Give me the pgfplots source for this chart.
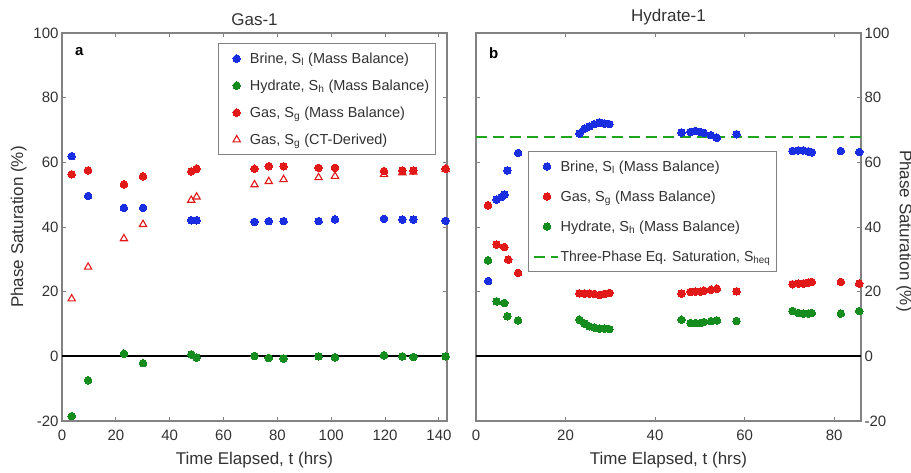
\documentclass[border=0pt]{standalone}
\usepackage{fontspec}
\setmainfont{Liberation Sans}
\usepackage{graphicx}
\usepackage{pgfplots}
\pgfplotsset{compat=1.18}
\definecolor{mblue}{RGB}{25,45,225}
\definecolor{mred}{RGB}{225,25,25}
\definecolor{mgreen}{RGB}{20,140,30}
\definecolor{dgreen}{RGB}{30,165,30}
\definecolor{axgray}{RGB}{130,130,130}
\definecolor{txt}{RGB}{50,50,50}
\pgfplotsset{
  panel/.style={
    scale only axis, width=385pt, height=388pt,
    ymin=-20, ymax=100, ytick={-20,0,...,100},
    axis line style={draw=axgray, line width=1.4pt},
    tick style={draw=axgray, line width=0.9pt},
    major tick length=4pt,
    tick align=inside,
    tick label style={font=\fontsize{15}{17}\selectfont, text=txt},
    xticklabel style={yshift=-5pt},
    label style={font=\fontsize{17}{20}\selectfont, text=txt},
    xlabel style={yshift=-5pt},
    title style={font=\fontsize{17}{20}\selectfont, text=txt, yshift=-2pt},
    legend style={font=\fontsize{14.5}{16}\selectfont, text=txt, draw=axgray,
      line width=1.2pt, inner xsep=4pt, inner ysep=7pt},
    legend cell align=left,
    /pgf/number format/assume math mode=true,
    clip=false,
  },
  markleg/.style={legend image code/.code={\path (0pt,0pt) (24pt,0pt);
      \draw[##1] plot coordinates {(13.5pt,0pt)};}},
  lineleg/.style={legend image code/.code={\draw[##1] (0pt,0pt) -- (24pt,0pt);}},
  dot/.style={only marks, mark=*, mark size=3.8pt, mark options={draw=#1, fill=#1, line width=0pt}, markleg},
}
\begin{document}
\begin{tikzpicture}
\useasboundingbox (0pt,0pt) rectangle (911pt,472pt);

% panel a
\begin{axis}[panel, at={(62pt,51pt)}, anchor=south west,
  xmin=0, xmax=143, xtick={0,20,...,140},
  title={Gas-1},
  xlabel={Time Elapsed, t (hrs)},
  ylabel={Phase Saturation (\%)},
  legend style={at={(0.971,0.974)}, anchor=north east, row sep=11pt},
]
\addplot[black, line width=2pt, forget plot] coordinates {(0,0)(143,0)};
\addplot[dot=mblue] coordinates {
(3.6,61.9)(9.7,49.6)(23,45.9)(30.1,45.9)(48,42.1)(50,42.1)(71.5,41.6)(76.8,41.8)
(82.3,41.8)(95.3,41.8)(101.4,42.4)(119.6,42.5)(126.4,42.3)(130.5,42.3)(142.5,41.9)};
\addplot[dot=mgreen] coordinates {
(3.6,-18.5)(9.7,-7.4)(23,0.8)(30.1,-2.1)(48,0.6)(50,-0.4)(71.5,0.1)(76.8,-0.5)
(82.3,-0.7)(95.3,0)(101.4,-0.3)(119.6,0.3)(126.4,0)(130.5,-0.2)(142.5,0)};
\addplot[dot=mred] coordinates {
(3.6,56.3)(9.7,57.5)(23,53.2)(30.1,55.7)(48,57.2)(50,58)(71.5,58)(76.8,58.8)
(82.3,58.8)(95.3,58.3)(101.4,58.3)(119.6,57.3)(126.4,57.5)(130.5,57.5)(142.5,58)};
\addplot[only marks, mark=triangle, mark size=4.2pt, mark options={draw=mred, fill=white, line width=1.1pt}, markleg] coordinates {
(3.6,17.8)(9.7,27.6)(23,36.4)(30.1,40.8)(48,48.3)(50,49.3)(71.5,53.1)(76.8,54.1)
(82.3,54.7)(95.3,55.3)(101.4,55.7)(119.6,56.3)(126.4,56.8)(130.5,57)(142.5,57.8)};
\legend{{Brine, S\textsubscript{l} (Mass Balance)}, {Hydrate, S\textsubscript{h} (Mass Balance)},
  {Gas, S\textsubscript{g} (Mass Balance)}, {Gas, S\textsubscript{g} (CT-Derived)}}
\node[font=\fontsize{15}{17}\selectfont\bfseries, text=black, anchor=north west] at (rel axis cs:0.025,0.972) {a};
\end{axis}

% panel b
\begin{axis}[panel, at={(476pt,51pt)}, anchor=south west,
  xmin=0, xmax=86, xtick={0,20,...,80},
  title={Hydrate-1},
  xlabel={Time Elapsed, t (hrs)},
  ylabel={Phase Saturation (\%)},
  yticklabel pos=right,
  ylabel style={rotate=180, xshift=4pt},
  legend style={at={(0.135,0.696)}, anchor=north west, row sep=14pt},
]
\addplot[black, line width=2pt, forget plot] coordinates {(0,0)(86,0)};
\addplot[dot=mblue] coordinates {
(2.7,23.3)(4.6,48.5)(5.7,49.3)(6.4,50)(7.0,57.5)(9.4,62.9)
(23.1,68.9)(24.2,70.4)(25.3,71.1)(26.4,71.8)(27.6,72.3)(28.7,72.0)(29.8,71.8)
(45.9,69.2)(47.9,69.4)(49.0,69.7)(50.2,69.4)(50.9,69.1)(52.5,68.4)(53.8,67.6)(58.2,68.7)
(70.7,63.5)(72,63.7)(73.1,63.7)(74.2,63.4)(75,63.1)(81.5,63.5)(85.6,63.2)};
\addplot[dot=mred] coordinates {
(2.7,46.7)(4.6,34.6)(6.3,33.8)(7.2,29.9)(9.4,25.8)
(23.1,19.5)(24.2,19.4)(25.3,19.4)(26.4,19.3)(27.6,19.0)(28.7,19.3)(29.8,19.6)
(45.9,19.4)(47.9,19.9)(49.0,20.0)(50.2,20.0)(50.9,20.3)(52.5,20.6)(53.8,20.9)(58.2,20.1)
(70.7,22.3)(72,22.5)(73.1,22.5)(74.2,22.8)(75,23.0)(81.5,23.0)(85.6,22.5)};
\addplot[dot=mgreen] coordinates {
(2.7,29.7)(4.6,17.0)(6.3,16.5)(7.0,12.4)(9.4,11.1)
(23.1,11.3)(24.2,10.1)(25.3,9.3)(26.4,8.9)(27.6,8.6)(28.7,8.6)(29.8,8.4)
(45.9,11.3)(47.9,10.3)(49.0,10.3)(50.2,10.3)(50.9,10.6)(52.5,10.9)(53.8,11.1)(58.2,10.9)
(70.7,14.0)(72,13.4)(73.1,13.2)(74.2,13.2)(75,13.4)(81.5,13.2)(85.6,14.0)};
\addplot[draw=dgreen, line width=2pt, dash pattern=on 11pt off 6pt, mark=none, lineleg] coordinates {(0,67.7)(86,67.7)};
\legend{{Brine, S\textsubscript{l} (Mass Balance)}, {Gas, S\textsubscript{g} (Mass Balance)},
  {Hydrate, S\textsubscript{h} (Mass Balance)},
  {\scalebox{0.97}[1]{Three-Phase Eq. Saturation, S\textsubscript{heq}}}}
\node[font=\fontsize{15}{17}\selectfont\bfseries, text=black, anchor=north west] at (rel axis cs:0.025,0.972) {b};
\end{axis}
\end{tikzpicture}
\end{document}
